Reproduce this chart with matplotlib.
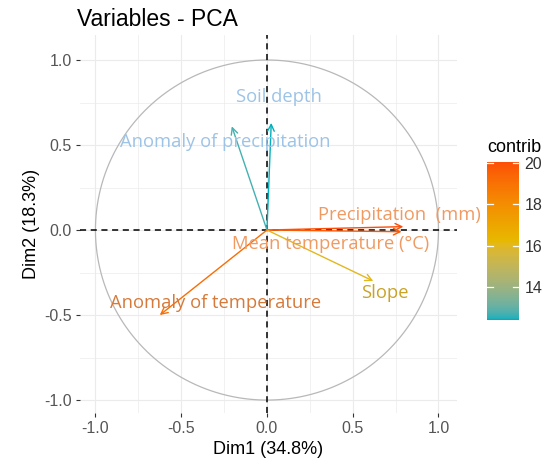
import matplotlib
matplotlib.use("Agg")
import matplotlib.pyplot as plt
import numpy as np
from matplotlib.colors import ListedColormap, Normalize, to_rgb
from matplotlib.colorbar import ColorbarBase

# Data
variables = ["Soil depth", "Anomaly of precipitation", "Precipitation  (mm)",
             "Mean temperature (°C)", "Slope", "Anomaly of temperature"]
dim1 = [0.025, -0.205, 0.795, 0.785, 0.62, -0.625]
dim2 = [0.63, 0.61, 0.02, -0.01, -0.30, -0.50]
contrib = [12.4, 12.7, 20.05, 19.7, 16.0, 19.15]
label_x = [0.07, -0.245, 0.77, 0.37, 0.685, -0.30]
label_y = [0.78, 0.52, 0.09, -0.085, -0.37, -0.43]
label_colors = ["#9DC3E6", "#9DC3E6", "#F09A62", "#F09A62", "#C9A228", "#D57A3A"]
ticks = [-1.0, -0.5, 0.0, 0.5, 1.0]
cbar_ticks = [14, 16, 18, 20]
gradient = ["#00AFBB", "#E7B800", "#FC4E07"]


# Lab-space gradient (as ggplot2 does)
def _srgb_to_lab(rgb):
    rgb = np.asarray(rgb, float)
    lin = np.where(rgb <= 0.04045, rgb / 12.92, ((rgb + 0.055) / 1.055) ** 2.4)
    M = np.array([[0.4124, 0.3576, 0.1805], [0.2126, 0.7152, 0.0722], [0.0193, 0.1192, 0.9505]])
    xyz = M @ lin / np.array([0.95047, 1.0, 1.08883])
    f = np.where(xyz > 0.008856, np.cbrt(xyz), 7.787 * xyz + 16 / 116)
    return np.array([116 * f[1] - 16, 500 * (f[0] - f[1]), 200 * (f[1] - f[2])])


def _lab_to_srgb(lab):
    L, a, b = lab
    fy = (L + 16) / 116
    fx = fy + a / 500
    fz = fy - b / 200
    f = np.array([fx, fy, fz])
    xyz = np.where(f ** 3 > 0.008856, f ** 3, (f - 16 / 116) / 7.787) * np.array([0.95047, 1.0, 1.08883])
    Minv = np.array([[3.2406, -1.5372, -0.4986], [-0.9689, 1.8758, 0.0415], [0.0557, -0.2040, 1.0570]])
    lin = Minv @ xyz
    lin = np.clip(lin, 0, 1)
    rgb = np.where(lin <= 0.0031308, 12.92 * lin, 1.055 * lin ** (1 / 2.4) - 0.055)
    return np.clip(rgb, 0, 1)


labs = [_srgb_to_lab(to_rgb(c)) for c in gradient]
n = 256
cols = []
for i in range(n):
    t = i / (n - 1) * (len(labs) - 1)
    k = min(int(t), len(labs) - 2)
    u = t - k
    cols.append(_lab_to_srgb(labs[k] * (1 - u) + labs[k + 1] * u))
cmap = ListedColormap(cols)

plt.rcParams['font.family'] = ['Liberation Sans', 'DejaVu Sans']

fig = plt.figure(figsize=(5.48, 4.74), dpi=100)
ax = fig.add_axes([80/548, 1-413/474, 377/548, 378/474])

norm = Normalize(vmin=min(contrib), vmax=max(contrib))

# grid
for v in np.arange(-1.0, 1.01, 0.25):
    major = any(abs(v - t) < 1e-9 for t in ticks)
    ax.axvline(v, color="#ebebeb", lw=0.8 if major else 0.5, zorder=0)
    ax.axhline(v, color="#ebebeb", lw=0.8 if major else 0.5, zorder=0)

# circle
theta = np.linspace(0, 2*np.pi, 400)
ax.plot(np.cos(theta), np.sin(theta), color="#b8b8b8", lw=0.9, zorder=1)

# dashed axes
ax.axhline(0, color="black", ls=(0, (4, 3)), lw=1.1, zorder=2)
ax.axvline(0, color="black", ls=(0, (4, 3)), lw=1.1, zorder=2)

for name, x, y, c, lx, ly, lc in zip(variables, dim1, dim2, contrib, label_x, label_y, label_colors):
    col = cmap(norm(c))
    ax.annotate("", xy=(x, y), xytext=(0, 0),
                arrowprops=dict(arrowstyle="->", color=col, lw=1.0,
                                shrinkA=0, shrinkB=0, mutation_scale=12),
                zorder=3)
    ax.text(lx, ly, name, color=lc, fontsize=13.2, ha="center", va="center",
            zorder=4, family=["Open Sans", "DejaVu Sans"])

ax.set_xlim(-1.09, 1.108)
ax.set_ylim(-1.076, 1.147)
ax.set_xticks(ticks)
ax.set_yticks(ticks)
ax.set_xticklabels([f"{t:.1f}" for t in ticks])
ax.set_yticklabels([f"{t:.1f}" for t in ticks])
ax.tick_params(length=3, width=0.8, color="#333333", labelcolor="#555555",
               labelsize=11.5, pad=3)
for s in ax.spines.values():
    s.set_visible(False)
ax.set_xlabel("Dim1 (34.8%)", fontsize=13, color="black", labelpad=3)
ax.set_ylabel("Dim2 (18.3%)", fontsize=13, color="black", labelpad=3)
fig.text(77/548, 1-19/474, "Variables - PCA", fontsize=16.5, ha="left", va="center")

# colorbar
cax = fig.add_axes([487/548, 1-320/474, 32/548, 158/474])
cb = ColorbarBase(cax, cmap=cmap, norm=norm, orientation="vertical", ticks=cbar_ticks)
cb.outline.set_visible(False)
cax.tick_params(length=0, labelsize=11.5, labelcolor="#333333", pad=4)
for t in cbar_ticks:
    cax.plot([0, 0.2], [t, t], color="white", lw=0.9, transform=cax.get_yaxis_transform())
    cax.plot([0.8, 1.0], [t, t], color="white", lw=0.9, transform=cax.get_yaxis_transform())
fig.text(487/548, 1-148/474, "contrib", fontsize=13, ha="left", va="center")

fig.savefig("out.png", dpi=100)
